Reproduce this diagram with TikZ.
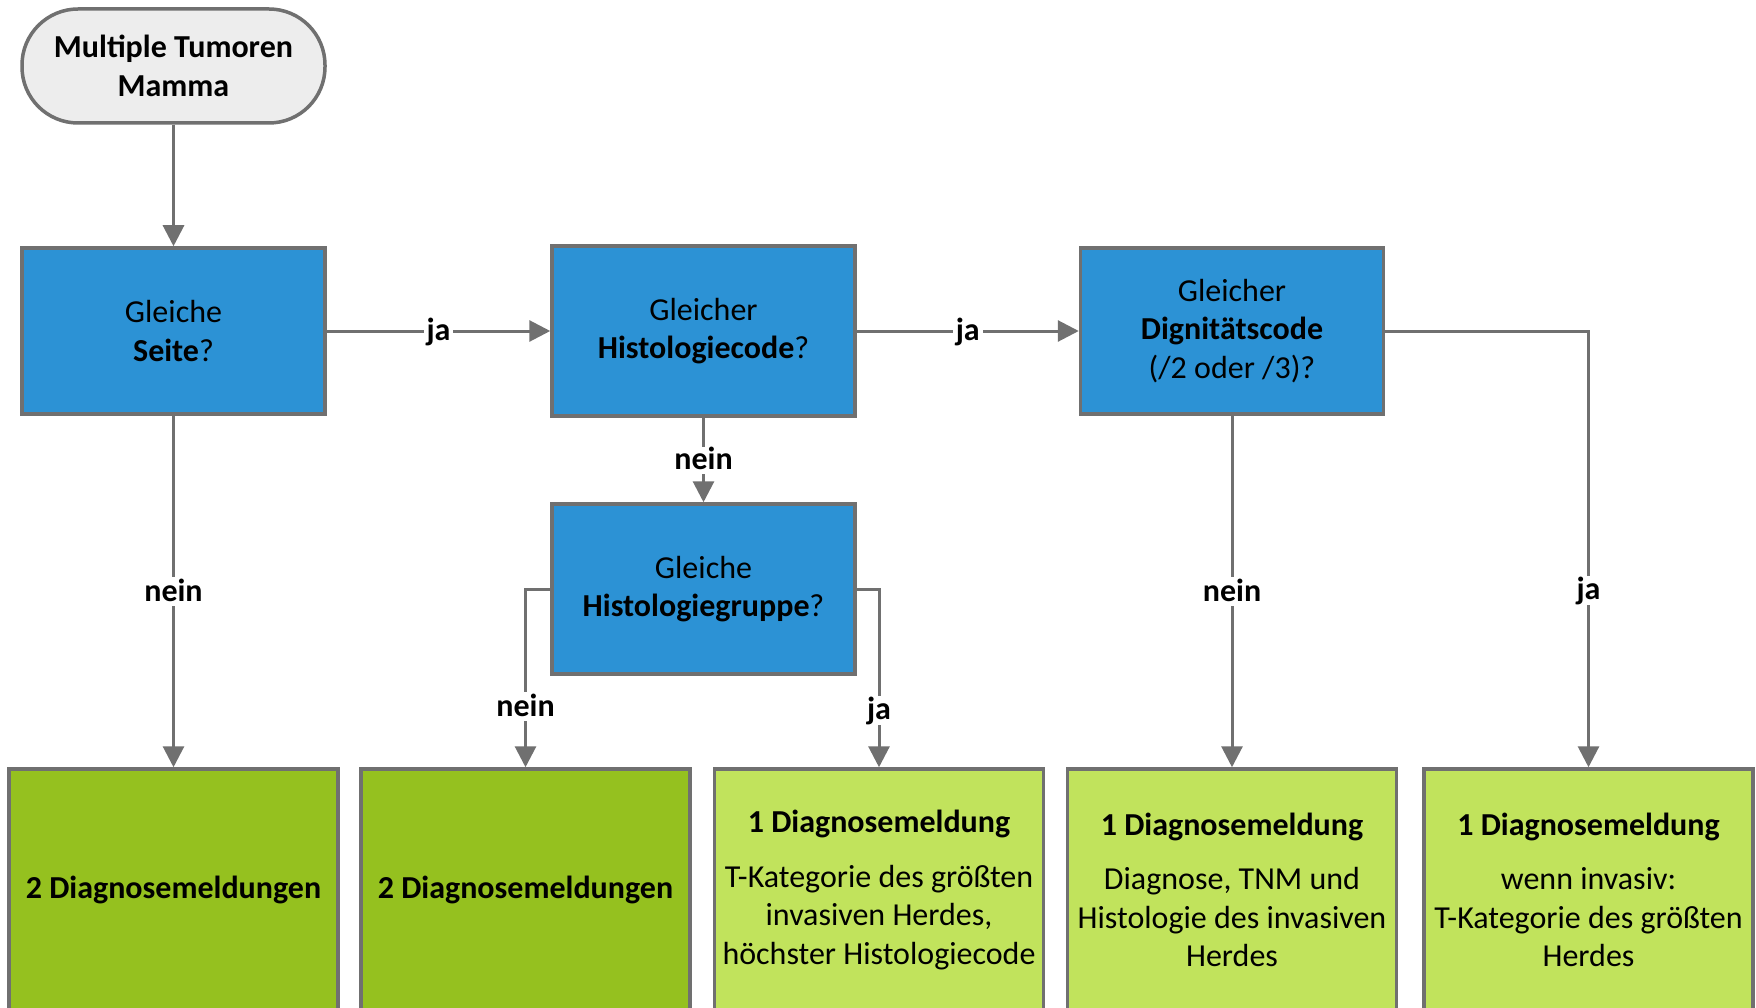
\documentclass[tikz,border=0pt]{standalone}
\usepackage{fontspec}
\setmainfont{Carlito}
\usetikzlibrary{arrows.meta}
\definecolor{qblue}{HTML}{2C92D5}
\definecolor{dgreen}{HTML}{95C11F}
\definecolor{lgreen}{HTML}{C1E35C}
\definecolor{bgray}{HTML}{707070}
\definecolor{sgray}{HTML}{EDEDED}
\begin{document}
\begin{tikzpicture}[x=1pt,y=-1pt,
  every node/.style={font=\fontsize{32}{38.5}\selectfont, align=center, text=black},
  startbox/.style={draw=bgray, line width=3.5pt, fill=sgray, rounded corners=56pt,
    minimum width=303pt, minimum height=114pt, inner sep=0pt},
  qbox/.style={draw=bgray, line width=3.5pt, fill=qblue, minimum width=303pt,
    minimum height=166pt, inner sep=0pt},
  rbox/.style={draw=bgray, line width=3.5pt, minimum width=329pt, minimum height=242pt, inner sep=0pt},
  arr/.style={draw=bgray, line width=3pt, -{Triangle[length=21pt,width=21pt]}},
  lab/.style={fill=white, inner xsep=3pt, inner ysep=2pt, text height=22pt, text depth=3pt,
    font=\fontsize{32}{38.5}\selectfont\bfseries}
]
\useasboundingbox (0,0) rectangle (1756,1008);
\fill[white] (0,0) rectangle (1756,1008);

\node[startbox] (start) at (173.5,66) {\textbf{Multiple Tumoren}\\\textbf{Mamma}};

\node[qbox] (b1) at (173.5,331) {Gleiche\\\textbf{Seite}?};
\node[qbox, minimum height=170pt] (b2) at (703.5,331) {Gleicher\\\textbf{Histologiecode}?};
\node[qbox] (b3) at (1232,331) {Gleicher\\\textbf{Dignitätscode}\\(/2 oder /3)?};
\node[qbox, minimum height=170pt] (b4) at (703.5,589) {Gleiche\\\textbf{Histologiegruppe}?};

\node[rbox, fill=dgreen] (r1) at (173.5,890) {\textbf{2 Diagnosemeldungen}};
\node[rbox, fill=dgreen] (r2) at (525.5,890) {\textbf{2 Diagnosemeldungen}};
\node[rbox, fill=lgreen] (r3) at (879,890) {\textbf{1 Diagnosemeldung}\\[16pt]T-Kategorie des größten\\invasiven Herdes,\\höchster Histologiecode};
\node[rbox, fill=lgreen] (r4) at (1232,890) {\textbf{1 Diagnosemeldung}\\[16pt]Diagnose, TNM und\\Histologie des invasiven\\Herdes};
\node[rbox, fill=lgreen] (r5) at (1588.5,890) {\textbf{1 Diagnosemeldung}\\[16pt]wenn invasiv:\\T-Kategorie des größten\\Herdes};

\draw[arr] (start) -- (b1);
\draw[arr] (b1) -- node[lab] (l1) {ja} (b2);
\draw[arr] (b2) -- node[lab] (l2) {ja} (b3);
\draw[arr] (b1) -- node[lab] (l3) {nein} (r1);
\draw[arr] (b2) -- node[lab, inner ysep=1pt] (l4) {nein} (b4);
\draw[arr] (b4.west) -| node[lab, pos=0.83] (l5) {nein} (r2.north);
\draw[arr] (b4.east) -| node[lab, pos=0.84] (l6) {ja} (r3.north);
\draw[arr] (b3) -- node[lab] (l7) {nein} (r4);
\draw[arr] (b3.east) -| node[lab, pos=0.797] (l8) {ja} (r5.north);
\end{tikzpicture}
\end{document}
